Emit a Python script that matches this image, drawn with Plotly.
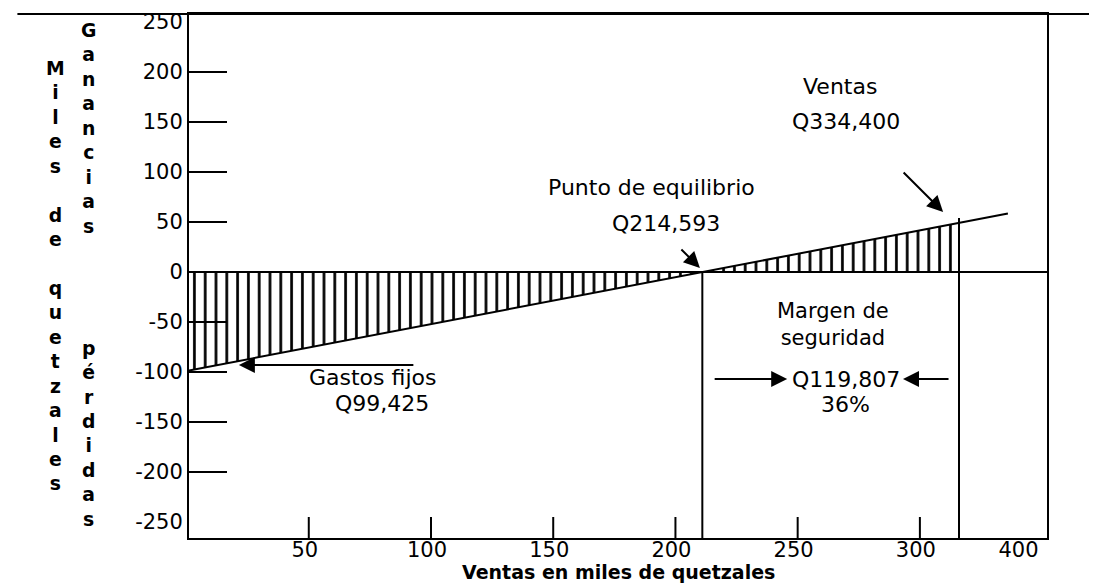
import plotly.graph_objects as go

# ---- Data (thousands of quetzales) ----
profit_x = [1, 211, 336]          # profit / loss line
profit_y = [-98.5, 0, 58.5]
hatch_x = [1, 211, 316]           # hatched area up to sales point
hatch_y = [-98.5, 0, 49]
breakeven_x = 211
sales_x = 316
sales_line_top = 54

x_range = [1, 352]
y_range = [-266, 258]

x_tick_vals = [50, 100, 150, 200, 250, 300, 342]
x_tick_text = ["50", "100", "150", "200", "250", "300", "400"]
x_tick_marks = [50, 100, 150, 200, 250, 300]

y_tick_vals = [250, 200, 150, 100, 50, 0, -50, -100, -150, -200, -250]
y_tick_text = ["250", "200", "150", "100", "50", "0", "-50", "-100", "-150", "-200", "-250"]
y_tick_marks = [200, 150, 100, 50, -50, -100, -150, -200]

FONT = "DejaVu Sans"
BLACK = "#000000"

fig = go.Figure()

# hatched area (vertical lines pattern)
fig.add_trace(go.Scatter(
    x=hatch_x, y=hatch_y, mode="lines", line=dict(width=0, color="rgba(0,0,0,0)"),
    fill="tozeroy", fillcolor="rgba(0,0,0,0)",
    fillpattern=dict(shape="|", size=10.8, solidity=0.25, fgcolor=BLACK,
                     bgcolor="rgba(0,0,0,0)", fgopacity=1),
    hoverinfo="skip", showlegend=False))

# profit line
fig.add_trace(go.Scatter(x=profit_x, y=profit_y, mode="lines",
                         line=dict(color=BLACK, width=2), showlegend=False))

# break-even vertical and sales vertical
fig.add_trace(go.Scatter(x=[breakeven_x, breakeven_x], y=[0, y_range[0]], mode="lines",
                         line=dict(color=BLACK, width=2), showlegend=False))
fig.add_trace(go.Scatter(x=[sales_x, sales_x], y=[sales_line_top, y_range[0]], mode="lines",
                         line=dict(color=BLACK, width=2), showlegend=False))

shapes = []
# y tick marks (inside)
for v in y_tick_marks:
    shapes.append(dict(type="line", xref="x", yref="y", xsizemode="pixel", xanchor=x_range[0],
                       x0=0, x1=38, y0=v, y1=v, line=dict(color=BLACK, width=2)))
# x tick marks (inside)
for v in x_tick_marks:
    shapes.append(dict(type="line", xref="x", yref="y", ysizemode="pixel", yanchor=y_range[0],
                       y0=0, y1=21, x0=v, x1=v, line=dict(color=BLACK, width=2)))
# top rule across the page
shapes.append(dict(type="line", xref="paper", yref="paper", x0=-0.2, x1=1.06, y0=1, y1=1,
                   line=dict(color=BLACK, width=2)))

annotations = []

def txt(x, y, text, size=22, bold=False):
    annotations.append(dict(x=x, y=y, xref="x", yref="y", text=text, showarrow=False,
                            font=dict(family=FONT, size=size, color=BLACK,
                                      weight="bold" if bold else "normal"),
                            xanchor="center", yanchor="middle"))

def arrow(x, y, ax, ay):
    annotations.append(dict(x=x, y=y, xref="x", yref="y", ax=ax, ay=ay, text="",
                            showarrow=True, arrowhead=2, arrowsize=1.6, arrowwidth=2,
                            arrowcolor=BLACK, standoff=0))

txt(75.9, -105, "Gastos fijos")
txt(80, -131, "Q99,425")
arrow(21.4, -93, 176, 0)

txt(190.0, 85, "Punto de equilibrio")
txt(196.1, 49, "Q214,593")
arrow(breakeven_x - 1, 4, -20, -20)

txt(267.3, 186, "Ventas")
txt(269.8, 151, "Q334,400")
arrow(309.5, 60, -41, -41)

txt(264.5, -52, "Margen de<br>seguridad", size=21)
txt(269.8, -107, "Q119,807")
txt(269.4, -132, "36%")
arrow(245.7, -107, -74, 0)
arrow(293.1, -107, 47, 0)

# vertical stacked axis titles
def column(text, xshift, yshift):
    lines = ["\u00a0" if c == " " else c for c in text]
    annotations.append(dict(x=0, y=1, xref="paper", yref="paper", xshift=xshift, yshift=yshift,
                            text="<br>".join(lines), showarrow=False, align="center",
                            xanchor="center", yanchor="top",
                            font=dict(family=FONT, size=18.8, color=BLACK, weight="bold")))

column("Miles de quetzales", -134, -42)
column("Ganancias    pérdidas", -101, -4)

annotations.append(dict(x=0.5, y=0, xref="paper", yref="paper", yshift=-34,
                        text="Ventas en miles de quetzales", showarrow=False,
                        xanchor="center", yanchor="middle",
                        font=dict(family=FONT, size=19, color=BLACK, weight="bold")))

# page body has an 8px margin: figure is drawn 8px in from the window's top-left
fig.update_layout(
    width=1089, height=576,
    margin=dict(l=181, r=50, t=6, b=46, autoexpand=False),
    paper_bgcolor="white", plot_bgcolor="white",
    shapes=shapes, annotations=annotations,
    showlegend=False,
    xaxis=dict(range=x_range, tickvals=x_tick_vals, ticktext=x_tick_text, ticks="",
               showgrid=False, zeroline=False, showline=True, linecolor=BLACK, linewidth=2,
               mirror=True, tickfont=dict(family=FONT, size=21, color=BLACK),
               ticklabelstandoff=-8, ticklabelshift=-4),
    yaxis=dict(range=y_range, tickvals=y_tick_vals, ticktext=y_tick_text, ticks="",
               showgrid=False, zeroline=True, zerolinecolor=BLACK, zerolinewidth=2,
               showline=True, linecolor=BLACK, linewidth=2, mirror=True,
               ticklabeloverflow="allow",
               tickfont=dict(family=FONT, size=21, color=BLACK)),
)

fig.write_html("out.html")
